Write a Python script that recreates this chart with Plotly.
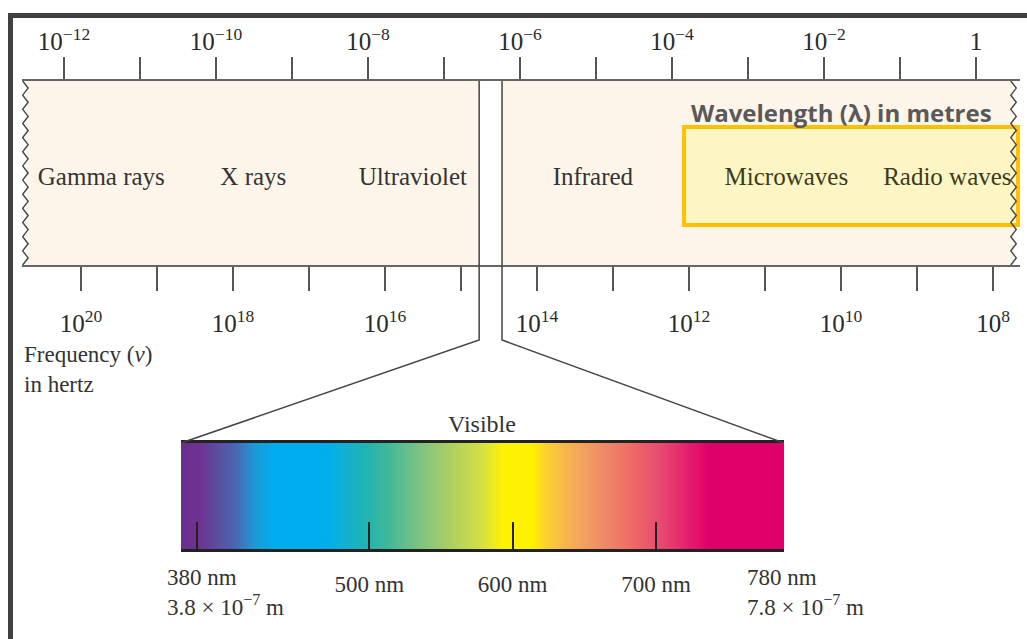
import numpy as np
import plotly.graph_objects as go

W, H = 1027, 639

# ---------------- data ----------------
wl_decades = list(range(-12, 1))                      # wavelength ticks, log10(m)
wl_ticktext = ["10<sup>\u2212%d</sup>" % (-e) if e % 2 == 0 and e != 0 else ("1" if e == 0 else "")
               for e in wl_decades]
freq_decades = list(range(8, 21))                     # frequency ticks, log10(Hz)
freq_ticktext = ["10<sup>%d</sup>" % e if e % 2 == 0 else "" for e in freq_decades]

band_names = ["Gamma rays", "X rays", "Ultraviolet", "Infrared", "Microwaves", "Radio waves"]
band_label_wl_m = [3.1e-12, 3.1e-10, 3.9e-8, 9.1e-6, 3.2e-3, 4.2e-1]
band_text_colors = ["#333333", "#333333", "#333333", "#333333", "#3b3b1c", "#3b3b1c"]

visible_gap_m = [2.9e-7, 5.8e-7]                      # window in the band, as drawn
highlight_wl_m = [1.44e-4, 3.57]                      # yellow box span, as drawn

vis_tick_nm = [380, 500, 600, 700]
vis_tick_text = ["", "500 nm", "600 nm", "700 nm"]
vis_end_nm = [380, 780]
vis_end_text = ["380 nm<br>3.8 \u00d7 10<sup>\u22127</sup> m", "780 nm<br>7.8 \u00d7 10<sup>\u22127</sup> m"]

spec_nm = [369, 381, 393, 406, 420, 434, 469, 483, 497, 513, 536, 558, 579, 593, 613, 623, 640, 662, 684, 704, 723, 737, 789]
spec_col = ['#6a2f8f', '#6e3290', '#5a4c9c', '#4a66b0', '#1a9ad8', '#00aeef', '#00aeef', '#10b0d0', '#20b4b0',
            '#40b898', '#80c480', '#b0d060', '#d8e040', '#fff200', '#fff200', '#fcd030', '#f5b055', '#f08c68',
            '#ee6868', '#e84870', '#e41c6c', '#e0006a', '#e0006a']

# ---------------- layout geometry ----------------
X_DOM = [22 / W, 1020 / W]
X_RANGE = [-12 + (22 - 64) / 76, -12 + (1020 - 64) / 76]
X2_RANGE = [20 + (81 - 22) / 76, 20 - (1020 - 81) / 76]
Y_DOM = [1 - 265 / H, 1 - 81 / H]
X3_DOM = [181 / W, 784 / W]
X3_RANGE = [spec_nm[0] - 0.3, spec_nm[-1] + 0.3]
Y3_DOM = [1 - 549 / H, 1 - 443 / H]

SERIF = "Liberation Serif, Times New Roman, serif"
TICKFONT = dict(family=SERIF, size=25, color="#2a2a2a")


def to_paper(dom, rng, v):
    return dom[0] + (v - rng[0]) / (rng[1] - rng[0]) * (dom[1] - dom[0])


fig = go.Figure()

# wavy (broken) edges of the band
n = 27
wy = np.linspace(0, 1, n)
amp = 0.036
wl = X_RANGE[0] + 0.045 + amp * np.where(np.arange(n) % 2 == 0, -1, 1)
wr = X_RANGE[1] - 0.085 + amp * np.where(np.arange(n) % 2 == 0, -1, 1)
for wx in (wl, wr):
    fig.add_trace(go.Scatter(x=wx, y=wy, mode="lines", line=dict(color="#444444", width=1.4),
                             hoverinfo="skip", showlegend=False, xaxis="x", yaxis="y"))

# band names
fig.add_trace(go.Scatter(
    x=np.log10(band_label_wl_m), y=[0.47] * len(band_names), mode="text", text=band_names,
    textfont=dict(family=SERIF, size=25, color=band_text_colors), hoverinfo="skip",
    showlegend=False, xaxis="x", yaxis="y"))

# carriers for the frequency axis and the wavelength-label axis (invisible)
fig.add_trace(go.Scatter(x=[freq_decades[0]], y=[0], mode="markers", marker=dict(opacity=0),
                         hoverinfo="skip", showlegend=False, xaxis="x2", yaxis="y"))
fig.add_trace(go.Scatter(x=[wl_decades[0]], y=[0], mode="markers", marker=dict(opacity=0),
                         hoverinfo="skip", showlegend=False, xaxis="x4", yaxis="y"))

# visible spectrum
nm = np.arange(spec_nm[0], spec_nm[-1] + 1, 1.0)
cs = [[(v - spec_nm[0]) / (spec_nm[-1] - spec_nm[0]), c] for v, c in zip(spec_nm, spec_col)]
fig.add_trace(go.Heatmap(x=nm, y=[0, 1], z=[nm, nm], colorscale=cs, showscale=False,
                         zsmooth="best", hoverinfo="skip", xaxis="x3", yaxis="y3"))

# ---------------- shapes ----------------
g0, g1 = np.log10(visible_gap_m)
h0, h1 = np.log10(highlight_wl_m)
shapes = []
beige = "#fdf5ea"
shapes.append(dict(type="rect", xref="x", yref="y", x0=X_RANGE[0] + 0.045, x1=g0, y0=0, y1=1,
                   fillcolor=beige, line=dict(width=0), layer="below"))
shapes.append(dict(type="rect", xref="x", yref="y", x0=g1, x1=X_RANGE[1] - 0.085, y0=0, y1=1,
                   fillcolor=beige, line=dict(width=0), layer="below"))
# highlight box
shapes.append(dict(type="rect", xref="x", yref="y", x0=h0, x1=h1, y0=0.217, y1=0.75,
                   fillcolor="#fdf6c4", line=dict(color="#FFC000", width=4), layer="below"))

# connectors from the band window to the visible bar
bend_y = 1 - 340 / H
for gx, corner in ((g0, X3_DOM[0]), (g1, X3_DOM[1])):
    px = to_paper(X_DOM, X_RANGE, gx)
    shapes.append(dict(type="path", xref="paper", yref="paper",
                       path=f"M {px},{Y_DOM[1]} L {px},{bend_y} L {corner},{Y3_DOM[1]}",
                       line=dict(color="#444444", width=1.5)))

# outer frame
shapes.append(dict(type="path", xref="paper", yref="paper",
                   path=f"M {10.5 / W},0 L {10.5 / W},{1 - 15.5 / H} L 1,{1 - 15.5 / H}",
                   line=dict(color="#404040", width=5)))

# ---------------- annotations ----------------
annotations = [
    dict(text="<b>Wavelength (\u03bb) in metres</b>", xref="x", yref="y", x=-1.776, y=0.83,
         showarrow=False, font=dict(family="Open Sans, Arial, sans-serif", size=24, color="#595959")),
    dict(text="Frequency (<i>\u03bd</i>)<br>in hertz", xref="paper", yref="paper", x=22 / W, y=1 - 340 / H,
         xanchor="left", yanchor="top", align="left", showarrow=False,
         font=dict(family=SERIF, size=23, color="#333333")),
    dict(text="Visible", xref="x3 domain", yref="y3 domain", x=0.5, y=1, yanchor="bottom", yshift=4,
         showarrow=False, font=dict(family=SERIF, size=24, color="#333333")),
]
for v, t, sh in zip(vis_end_nm, vis_end_text, (-32, -26)):
    annotations.append(dict(text=t, xref="x3", yref="y3 domain", x=v, y=0, xanchor="left", yanchor="top",
                            align="left", xshift=sh, yshift=-14, showarrow=False,
                            font=dict(family=SERIF, size=23, color="#333333")))

fig.update_layout(
    width=W, height=H, margin=dict(l=0, r=0, t=0, b=0),
    paper_bgcolor="white", plot_bgcolor="rgba(0,0,0,0)",
    showlegend=False, shapes=shapes, annotations=annotations,
    # wavelength axis: line + ticks
    xaxis=dict(domain=X_DOM, range=X_RANGE, anchor="y", side="top", tickmode="array",
               tickvals=wl_decades, ticks="outside", ticklen=22, tickwidth=2, showticklabels=False,
               tickcolor="#555555", showline=True, linecolor="#666666", linewidth=2,
               showgrid=False, zeroline=False),
    # wavelength axis: labels
    xaxis4=dict(overlaying="x", range=X_RANGE, anchor="free", position=1 - 55 / H, side="top",
                tickmode="array", tickvals=wl_decades, ticktext=wl_ticktext, ticks="",
                showline=False, showgrid=False, zeroline=False, ticklabelstandoff=0, tickfont=TICKFONT),
    # frequency axis
    xaxis2=dict(overlaying="x", range=X2_RANGE, anchor="y", side="bottom", tickmode="array",
                tickvals=freq_decades, ticktext=freq_ticktext, ticks="outside", ticklen=24, tickwidth=2,
                tickcolor="#555555", showline=True, linecolor="#666666", linewidth=2,
                showgrid=False, zeroline=False, ticklabelstandoff=11, tickfont=TICKFONT),
    yaxis=dict(domain=Y_DOM, range=[0, 1], visible=False, fixedrange=True),
    xaxis3=dict(domain=X3_DOM, range=X3_RANGE, anchor="y3", side="bottom", tickmode="array",
                tickvals=vis_tick_nm, ticktext=vis_tick_text, ticks="inside", ticklen=27, tickwidth=2,
                tickcolor="#222222", showline=True, mirror=True, linecolor="#222222", linewidth=2.5,
                showgrid=False, zeroline=False, ticklabelstandoff=13,
                tickfont=dict(family=SERIF, size=23, color="#333333")),
    yaxis3=dict(domain=Y3_DOM, range=[0, 1], visible=False, fixedrange=True),
)

fig.write_html("out.html", config={"displayModeBar": False},
               post_script="document.body.style.margin='0px';")
